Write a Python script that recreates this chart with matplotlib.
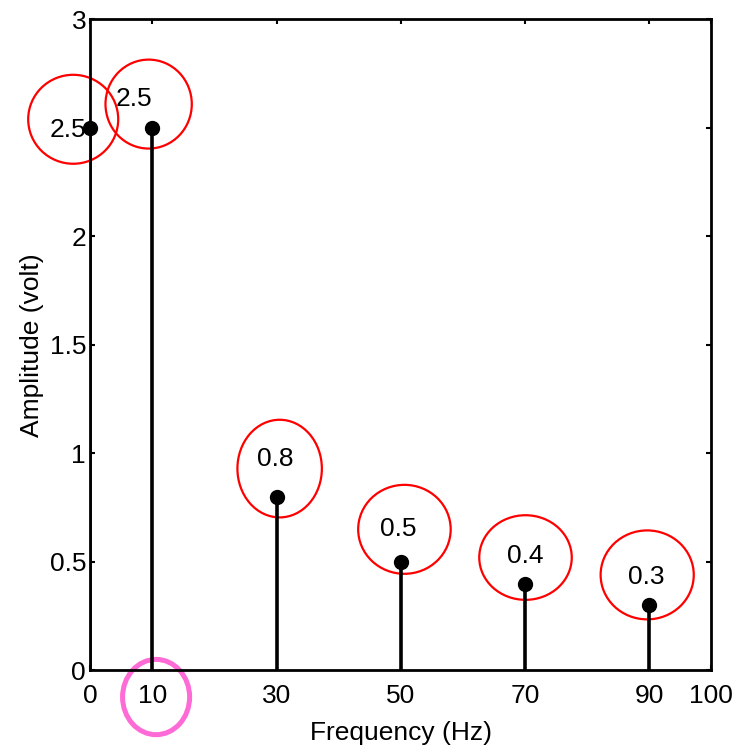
import matplotlib
matplotlib.use('Agg')
import matplotlib.pyplot as plt
from matplotlib.patches import Ellipse

plt.rcParams['font.family'] = ['Liberation Sans', 'DejaVu Sans']

# datos del espectro
frecuencias = [0, 10, 30, 50, 70, 90]
amplitudes = [2.5, 2.5, 0.8, 0.5, 0.4, 0.3]
etiquetas = ['', '2.5', '0.8', '0.5', '0.4', '0.3']   # el 2.5 de x=0 es la marca del eje y
xticks = [0, 10, 30, 50, 70, 90, 100]
yticks = [0, 0.5, 1, 1.5, 2, 2.5, 3]

fig = plt.figure(figsize=(7.4, 7.49), dpi=100)
ax = fig.add_axes([0.122, 0.105, 0.839, 0.869])

marcas, lineas, base = ax.stem(frecuencias, amplitudes, basefmt=' ')
plt.setp(lineas, color='black', linewidth=2.6)
plt.setp(marcas, color='black', markersize=10, markerfacecolor='black', clip_on=False)

# etiquetas de valor (desplazamiento en puntos)
desplaz = [(0, 0), (-13, 21), (-1, 27), (-2, 24), (0, 20), (-2, 20)]
for f, a, t, d in zip(frecuencias, amplitudes, etiquetas, desplaz):
    if t:
        ax.annotate(t, (f, a), xytext=d, textcoords='offset points',
                    ha='center', va='center', fontsize=19)

# circulos rojos alrededor de las etiquetas
circulos = [(-2.75, 2.54, 14.5, 0.41), (9.4, 2.61, 13.9, 0.41),
            (30.5, 0.93, 13.6, 0.45), (50.6, 0.65, 14.9, 0.41),
            (70.1, 0.52, 14.9, 0.39), (89.7, 0.44, 15.0, 0.41)]
for cx, cy, w, h in circulos:
    ax.add_patch(Ellipse((cx, cy), w, h, fill=False, edgecolor='red',
                         linewidth=1.6, clip_on=False))

# circulo rosa en la marca 10
ax.add_patch(Ellipse((10.6, -0.123), 10.8, 0.347, fill=False,
                     edgecolor='#ff6bd6', linewidth=3.6, clip_on=False))

ax.set_xlim(0, 100)
ax.set_ylim(0, 3)
ax.set_xticks(xticks)
ax.set_yticks(yticks)
ax.set_yticklabels(['0', '0.5', '1', '1.5', '2', '2.5', '3'])
ax.tick_params(direction='in', length=3.5, width=1.5, labelsize=19,
               top=True, right=True)
ax.tick_params(axis='x', pad=10)
ax.tick_params(axis='y', pad=3)
for s in ax.spines.values():
    s.set_linewidth(2)

ax.set_xlabel('Frequency (Hz)', fontsize=19, labelpad=9)
ax.set_ylabel('Amplitude (volt)', fontsize=19, labelpad=4)

plt.savefig('out.png', dpi=100)
